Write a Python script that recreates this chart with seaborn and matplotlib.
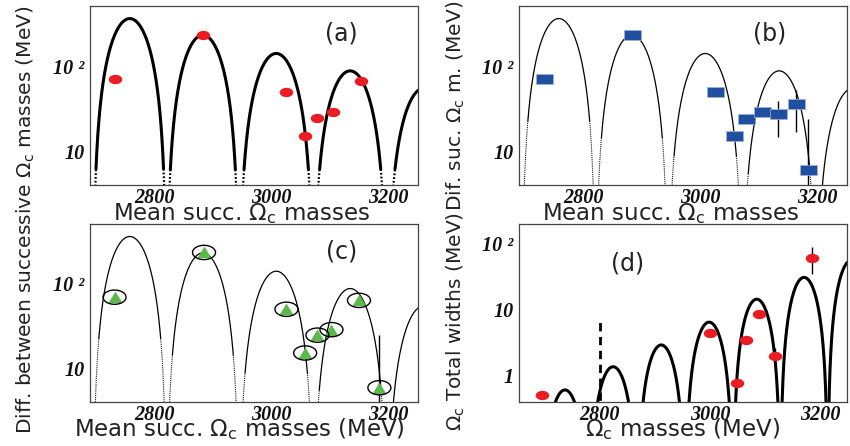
import numpy as np
import matplotlib
matplotlib.use("Agg")
import matplotlib.pyplot as plt
from matplotlib.path import Path
from matplotlib.ticker import MultipleLocator, LogLocator, NullFormatter
import seaborn as sns

# ---------------------------------------------------------------- data
# (a) mean of successive Omega_c masses vs. their mass difference (MeV)
mean_a = [2731, 2883, 3025, 3057, 3077, 3104, 3152]
diff_a = [70, 233, 49, 15.2, 24.3, 28.8, 67]

# (b) same quantity, extended set
mean_b = [2731, 2883, 3025, 3057, 3077, 3104, 3132, 3163, 3184]
diff_b = [70, 233, 49, 15.0, 24.0, 28.7, 27.0, 35.6, 6.0]
diff_b_lo = [np.nan] * 6 + [14.8, 17.0, 2.0]
diff_b_hi = [np.nan] * 6 + [39.0, 52.0, 24.0]

# (c) same quantity, another selection
mean_c = [2731, 2884, 3025, 3057, 3078, 3102, 3149, 3184]
diff_c = [69.5, 235, 50, 15.2, 24.7, 28.7, 63.7, 5.9]
diff_c_lo = [np.nan] * 7 + [2.0]
diff_c_hi = [np.nan] * 7 + [24.6]

# (d) Omega_c masses and total widths (MeV)
mass_d = [2695, 3000, 3050, 3066, 3090, 3119, 3185]
width_d = [0.51, 4.5, 0.79, 3.5, 8.7, 2.0, 61]
width_d_lo = [np.nan] * 5 + [1.4, 35]
width_d_hi = [np.nan] * 5 + [2.6, 89]
threshold_d = 2800          # dashed marker line
threshold_top = 7.0

# model arches: successive zeros and heights of each lobe
roots_abc = [2694, 2820, 2944, 3071, 3197, 3323]
peaks_abc = [363, 232, 141, 88, 55]
roots_d = [2693, 2780, 2868, 2955, 3042, 3128, 3214, 3301]
peaks_d = [0.61, 1.37, 2.93, 6.5, 14.5, 31, 57]

# ---------------------------------------------------------------- style
sns.set_theme(style="white")
plt.rcParams["font.family"] = ["DejaVu Sans"]
plt.rcParams["mathtext.fontset"] = "dejavusans"

RED = "#ec1c24"
BLUE = "#1f4f9e"
GREEN = "#5cb84a"
W, H = 850, 446
fig = plt.figure(figsize=(W / 100, H / 100), dpi=100)
fig.patch.set_facecolor("white")


def px_axes(left, top, right, bottom):
    return fig.add_axes([left / W, 1 - bottom / H, (right - left) / W, (bottom - top) / H])


ax_a = px_axes(90, 6, 418, 185)
ax_b = px_axes(519, 6, 847, 185)
ax_c = px_axes(90, 224, 418, 402)
ax_d = px_axes(519, 224, 847, 402)


def shape(path_xy):
    v = np.asarray(path_xy, float)
    codes = [Path.MOVETO] + [Path.LINETO] * (len(v) - 2) + [Path.CLOSEPOLY]
    return Path(v, codes)


t = np.linspace(0, 2 * np.pi, 61)
ellipse = shape(np.c_[np.cos(t), 0.69 * np.sin(t)])
ring = shape(np.c_[np.cos(t), 0.62 * np.sin(t)])
rect = shape([(-1, -0.59), (1, -0.59), (1, 0.59), (-1, 0.59), (-1, -0.59)])
tri = shape([(-1, -0.8), (1, -0.8), (0, 0.85), (-1, -0.8)])


def pt2(px):
    return (px * 72 / 100) ** 2


def draw_arches(ax, roots, peaks, lw, tail_lw, tail_level, rel=True):
    for r0, r1, h in zip(roots[:-1], roots[1:], peaks):
        x = np.linspace(r0, r1, 600)
        y = np.clip(h * np.sin(np.pi * (x - r0) / (r1 - r0)) ** 2, 1e-3, None)
        lvl = tail_level * h if rel else tail_level
        idx = np.where(y >= lvl)[0]
        if len(idx) == 0:
            continue
        i0, i1 = idx[0], idx[-1]
        sns.lineplot(x=x[i0:i1 + 1], y=y[i0:i1 + 1], ax=ax, color="black", lw=lw,
                     estimator=None, sort=False, legend=False)
        for sl in (slice(0, i0 + 1), slice(i1, len(x))):
            sns.lineplot(x=x[sl], y=y[sl], ax=ax, color="black", lw=tail_lw,
                         linestyle=(0, (0.8, 0.9)), estimator=None, sort=False,
                         legend=False)


def err(ax, xs, lo, hi):
    for x, a, b in zip(xs, lo, hi):
        if not np.isnan(a):
            ax.vlines(x, a, b, color="black", lw=1.0, zorder=2)


def frame(ax, xlim, ylim, majors, labels):
    ax.set_yscale("log")
    ax.set_xlim(*xlim)
    ax.set_ylim(*ylim)
    ax.set_xticks([2800, 3000, 3200])
    ax.xaxis.set_minor_locator(MultipleLocator(50))
    ax.set_yticks(majors, labels=labels)
    ax.yaxis.set_minor_locator(LogLocator(base=10, subs=np.arange(2, 10)))
    ax.yaxis.set_minor_formatter(NullFormatter())
    ax.tick_params(which="both", direction="in", top=False, right=False,
                   color="#333333", width=0.8)
    ax.tick_params(axis="x", which="major", length=8, pad=2)
    ax.tick_params(axis="x", which="minor", length=4)
    ax.tick_params(axis="y", which="major", length=7, pad=4)
    ax.tick_params(axis="y", which="minor", length=4)
    for lab in ax.get_xticklabels() + ax.get_yticklabels():
        lab.set_fontfamily("Liberation Serif")
        lab.set_fontweight("bold")
        lab.set_fontstyle("italic")
        lab.set_fontsize(14.5)
        lab.set_color("#111111")
    for sp in ax.spines.values():
        sp.set_color("#444444")
        sp.set_linewidth(0.9)
    ax.set_xlabel("")
    ax.set_ylabel("")


def xtitle(ax, xfrac, baseline_px, text):
    bottom_px = ax.get_position().y0 * H
    yfrac = -(baseline_px - (H - bottom_px)) / (ax.get_position().height * H)
    ax.text(xfrac, yfrac, text, transform=ax.transAxes, ha="center", va="baseline",
            fontsize=16.5, color="#222222")


lab_kw = dict(fontsize=17, color="#222222")
xlim_abc = (2689, 3250)
ylim_abc = (4, 510)
maj_abc, lab_abc = [10, 100], ["10", "10 \u00b2"]

# (a)
draw_arches(ax_a, roots_abc, peaks_abc, 2.2, 1.6, 6.0, rel=False)
sns.scatterplot(x=mean_a, y=diff_a, ax=ax_a, marker=ellipse, s=pt2(13.5),
                color=RED, edgecolor=RED, linewidth=0, zorder=3, legend=False)
frame(ax_a, xlim_abc, ylim_abc, maj_abc, lab_abc)
ax_a.text(0.766, 0.848, "(a)", transform=ax_a.transAxes, ha="center", va="center", **lab_kw)
xtitle(ax_a, 0.462, 220, r"Mean succ. $\Omega_\mathrm{c}$ masses")

# (b)
draw_arches(ax_b, roots_abc, peaks_abc, 0.9, 0.8, 0.06)
err(ax_b, mean_b, diff_b_lo, diff_b_hi)
sns.scatterplot(x=mean_b, y=diff_b, ax=ax_b, marker=rect, s=pt2(17),
                color=BLUE, edgecolor="#9db5da", linewidth=0.5, zorder=3, legend=False)
frame(ax_b, xlim_abc, ylim_abc, maj_abc, lab_abc)
ax_b.text(0.765, 0.848, "(b)", transform=ax_b.transAxes, ha="center", va="center", **lab_kw)
xtitle(ax_b, 0.463, 220, r"Mean succ. $\Omega_\mathrm{c}$ masses")

# (c)
draw_arches(ax_c, roots_abc, peaks_abc, 0.9, 0.8, 0.06)
err(ax_c, mean_c, diff_c_lo, diff_c_hi)
sns.scatterplot(x=mean_c, y=diff_c, ax=ax_c, marker=tri, s=pt2(14),
                color=GREEN, edgecolor=GREEN, linewidth=0, zorder=3, legend=False)
sns.scatterplot(x=mean_c, y=diff_c, ax=ax_c, marker=ring, s=pt2(23),
                color="black", facecolor="none", edgecolor="black", linewidth=1.0,
                zorder=4, legend=False)
frame(ax_c, xlim_abc, ylim_abc, maj_abc, lab_abc)
ax_c.text(0.766, 0.848, "(c)", transform=ax_c.transAxes, ha="center", va="center", **lab_kw)
xtitle(ax_c, 0.455, 436, r"Mean succ. $\Omega_\mathrm{c}$ masses (MeV)")

# (d)
draw_arches(ax_d, roots_d, peaks_d, 2.2, 2.2, 0.0)
ax_d.vlines(threshold_d, 0.1, threshold_top, color="black", lw=2.0,
            linestyles=(0, (3, 2)), zorder=2)
err(ax_d, mass_d, width_d_lo, width_d_hi)
sns.scatterplot(x=mass_d, y=width_d, ax=ax_d, marker=ellipse, s=pt2(13.5),
                color=RED, edgecolor=RED, linewidth=0, zorder=3, legend=False)
frame(ax_d, (2653, 3249), (0.4, 200), [1, 10, 100], ["1", "10", "10 \u00b2"])
ax_d.text(0.33, 0.78, "(d)", transform=ax_d.transAxes, ha="center", va="center", **lab_kw)
xtitle(ax_d, 0.5, 436, r"$\Omega_\mathrm{c}$ masses (MeV)")

# vertical axis titles
ylab_kw = dict(rotation=90, ha="center", va="center", fontsize=14.5, color="#222222")
fig.text(26 / W, 1 - 220 / H, r"Diff. between successive $\Omega_\mathrm{c}$ masses (MeV)", **ylab_kw)
fig.text(456 / W, 1 - 106 / H, r"Dif. suc. $\Omega_\mathrm{c}$ m. (MeV)", **ylab_kw)
fig.text(456 / W, 1 - 322 / H, r"$\Omega_\mathrm{c}$ Total widths (MeV)", **ylab_kw)

fig.savefig("out.png", dpi=100, facecolor="white")
